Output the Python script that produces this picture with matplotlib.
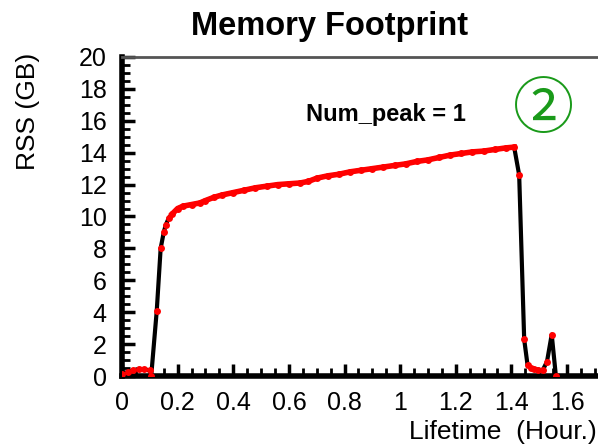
import matplotlib.pyplot as plt
from matplotlib.ticker import MultipleLocator

# Data (hours, GB)
hours = [0.0, 0.02, 0.04, 0.06, 0.08, 0.10, 0.105, 0.125, 0.139, 0.150, 0.157,
         0.168, 0.18, 0.20, 0.22, 0.25, 0.28, 0.30, 0.33, 0.36, 0.40, 0.44,
         0.48, 0.52, 0.56, 0.60, 0.64, 0.67, 0.70, 0.74, 0.78, 0.82, 0.86,
         0.90, 0.94, 0.98, 1.02, 1.06, 1.10, 1.14, 1.18, 1.22, 1.26, 1.30,
         1.34, 1.38, 1.41, 1.428, 1.446, 1.458, 1.47, 1.482, 1.497, 1.512,
         1.528, 1.545, 1.56]
rss = [0.15, 0.25, 0.35, 0.45, 0.42, 0.35, 0.0, 4.1, 8.0, 9.0, 9.45,
       9.9, 10.15, 10.5, 10.65, 10.75, 10.85, 11.0, 11.2, 11.35, 11.5, 11.65,
       11.8, 11.9, 12.0, 12.05, 12.1, 12.2, 12.4, 12.55, 12.65, 12.8, 12.9,
       13.0, 13.1, 13.2, 13.3, 13.45, 13.55, 13.7, 13.85, 13.95, 14.05, 14.1,
       14.2, 14.3, 14.35, 12.6, 2.3, 0.7, 0.5, 0.45, 0.4, 0.35,
       0.9, 2.6, 0.0]

x_ticks = [0, 0.2, 0.4, 0.6, 0.8, 1.0, 1.2, 1.4, 1.6]
x_labels = ["0", "0.2", "0.4", "0.6", "0.8", "1", "1.2", "1.4", "1.6"]
y_ticks = list(range(0, 21, 2))

plt.rcParams['font.family'] = ['Liberation Sans', 'DejaVu Sans', 'Noto Sans CJK SC']

fig = plt.figure(figsize=(5.98, 4.45), dpi=100)
ax = fig.add_axes([0.204, 0.155, 0.80, 0.717])

ax.plot(hours, rss, color='black', lw=3, zorder=2)
# plateau samples are so dense they read as a solid red band
ax.plot(hours[12:47], rss[12:47], color='red', lw=4, zorder=3)
ax.plot(hours, rss, ls='none', marker='o', ms=5, color='red',
        markeredgewidth=0, zorder=4)

ax.set_xlim(0, 1.72)
ax.set_ylim(0, 20)
ax.set_xticks(x_ticks)
ax.set_xticklabels(x_labels)
ax.set_yticks(y_ticks)
ax.xaxis.set_minor_locator(MultipleLocator(0.05))
ax.yaxis.set_minor_locator(MultipleLocator(0.5))
ax.tick_params(which='major', direction='in', length=9, width=2.5,
               labelsize=18, top=False, right=False)
ax.tick_params(axis='x', which='major', pad=11)
ax.tick_params(axis='y', which='major', pad=11)
ax.tick_params(which='minor', direction='in', length=6, width=2,
               top=False, right=False)

for side in ['left', 'bottom']:
    ax.spines[side].set_linewidth(4)
ax.spines['top'].set_linewidth(2)
ax.spines['top'].set_color('#555555')
ax.spines['right'].set_visible(False)

fig.text(330 / 598, 1 - 27 / 445, "Memory Footprint", fontsize=23.5,
         fontweight='bold', ha='center', va='center')
fig.text(28 / 598, 1 - 111 / 445, "RSS (GB)", fontsize=19, rotation=90,
         ha='center', va='center')
fig.text(0.998, 0.003, "Lifetime  (Hour.)", fontsize=19, ha='right', va='bottom')

ax.text(0.95, 16.4, "Num_peak = 1", fontsize=17, fontweight='bold',
        ha='center', va='center')
ax.text(1.517, 16.6, "\u2461", fontsize=44, color='#1a9a1a',
        family=['Noto Sans CJK SC', 'DejaVu Sans'], ha='center', va='center')

fig.savefig("out.png", dpi=100)
